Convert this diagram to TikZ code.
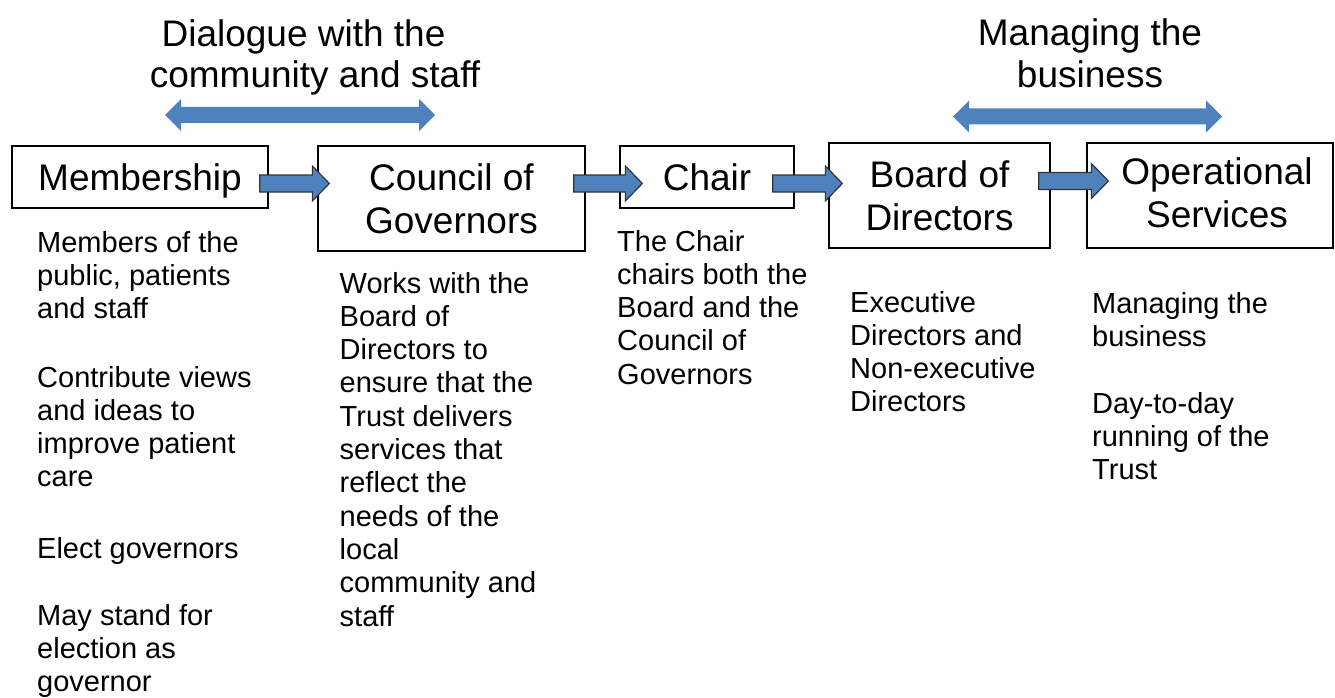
\documentclass[tikz,border=0pt]{standalone}
\usepackage{fontspec}
\setmainfont{Liberation Sans}
\usetikzlibrary{calc}
\definecolor{ablue}{HTML}{4F81BD}
\tikzset{
 box/.style={draw=black, line width=1.3pt, rectangle, inner sep=0pt, font=\fontsize{37}{42.6}\selectfont, align=center},
 oneline/.style={text height=27pt, text depth=0pt},
 body/.style={inner sep=0pt, anchor=base west, font=\fontsize{29}{33.3}\selectfont},
 headtext/.style={inner sep=0pt, anchor=base, font=\fontsize{37}{42}\selectfont},
 blockarrow/.style={fill=ablue, draw=black!80, line width=1.2pt, line join=miter},
 dblarrow/.style={fill=ablue, draw=none},
}
\newcommand\blkarrow[2]{\draw[blockarrow] ($(#1)+(0,8.5)$) -- ($(#2)+(-17,8.5)$) -- ($(#2)+(-17,17.5)$) -- (#2) -- ($(#2)+(-17,-17.5)$) -- ($(#2)+(-17,-8.5)$) -- ($(#1)+(0,-8.5)$) -- cycle;}
\newcommand\dblarrow[2]{\fill[dblarrow] (#1) -- ($(#1)+(16,-16)$) -- ($(#1)+(16,-8)$) -- ($(#2)+(-16,-8)$) -- ($(#2)+(-16,-16)$) -- (#2) -- ($(#2)+(-16,16)$) -- ($(#2)+(-16,8)$) -- ($(#1)+(16,8)$) -- ($(#1)+(16,16)$) -- cycle;}
\begin{document}
\begin{tikzpicture}[x=1pt,y=-1pt]
\useasboundingbox (0,0) rectangle (1335,698);
% headings
\node[headtext] (h1a) at (303.5,47) {Dialogue with the};
\node[headtext] (h1b) at (315,88) {community and staff};
\node[headtext] (h2a) at (1090,46) {Managing the};
\node[headtext] (h2b) at (1090,88) {business};
% double arrows
\coordinate (d1l) at (165,115);
\coordinate (d1r) at (435,115);
\coordinate (d2l) at (953,116.5);
\coordinate (d2r) at (1222,116.5);
\dblarrow{d1l}{d1r}
\dblarrow{d2l}{d2r}
% boxes
\node[box, oneline, minimum width=256pt, minimum height=62pt] (mem) at (140,177) {Membership};
\node[box, minimum width=267pt, minimum height=105pt] (gov) at (451.5,198.5) {Council of\\Governors};
\node[box, oneline, minimum width=174pt, minimum height=62pt] (chair) at (707,177) {Chair};
\node[box, minimum width=221pt, minimum height=105pt] (board) at (939.5,195.5) {Board of\\Directors};
\node[box, minimum width=246pt, minimum height=105pt] (ops) at (1210,195.5) {};
\node[inner sep=0pt, align=center, font=\fontsize{37}{42.6}\selectfont] (opstext) at (1217,192.8) {Operational\\Services};
% block arrows
\coordinate (a1t) at ($(mem.east)+(-9,6.5)$);
\coordinate (a1h) at ($(a1t -| gov.west)+(12,0)$);
\coordinate (a2t) at ($(gov.east |- a1t)+(-12,0)$);
\coordinate (a2h) at ($(a2t -| chair.west)+(23,0)$);
\coordinate (a3t) at ($(chair.east)+(-22,6.5)$);
\coordinate (a3h) at ($(a3t -| board.west)+(14,0)$);
\coordinate (a4t) at ($(board.east)+(-12,-14.5)$);
\coordinate (a4h) at ($(a4t -| ops.west)+(22,0)$);
\blkarrow{a1t}{a1h}
\blkarrow{a2t}{a2h}
\blkarrow{a3t}{a3h}
\blkarrow{a4t}{a4h}
% body texts
\node[body] (m1) at (37,252) {\parbox[t]{300pt}{Members of the\\public, patients\\and staff}};
\node[body] (m2) at (37,387) {\parbox[t]{300pt}{Contribute views\\and ideas to\\improve patient\\care}};
\node[body] (m3) at (37,558) {\parbox[t]{300pt}{Elect governors}};
\node[body] (m4) at (37,625) {\parbox[t]{300pt}{May stand for\\election as\\governor}};
\node[body] (g1) at (339.5,293) {\parbox[t]{300pt}{Works with the\\Board of\\Directors to\\ensure that the\\Trust delivers\\services that\\reflect the\\needs of the\\local\\community and\\staff}};
\node[body] (c1) at (617,251) {\parbox[t]{300pt}{The Chair\\chairs both the\\Board and the\\Council of\\Governors}};
\node[body] (b1) at (850,312) {\parbox[t]{300pt}{Executive\\Directors and\\Non-executive\\Directors}};
\node[body] (o1) at (1092,313) {\parbox[t]{240pt}{Managing the\\business}};
\node[body] (o2) at (1092,413) {\parbox[t]{240pt}{Day-to-day\\running of the\\Trust}};
\end{tikzpicture}
\end{document}
